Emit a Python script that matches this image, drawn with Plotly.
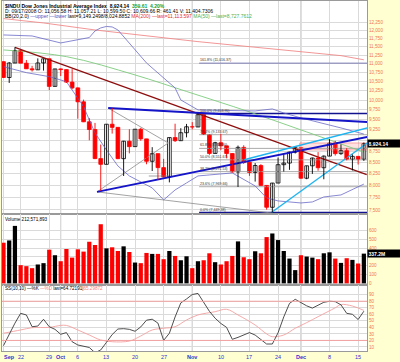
import math
import plotly.graph_objects as go
from plotly.subplots import make_subplots

# ---------------- data ----------------
dates = [
    "09/17", "09/18", "09/19", "09/22", "09/23", "09/24", "09/25", "09/26", "09/29", "09/30",
    "10/01", "10/02", "10/03", "10/06", "10/07", "10/08", "10/09", "10/10", "10/13", "10/14",
    "10/15", "10/16", "10/17", "10/20", "10/21", "10/22", "10/23", "10/24", "10/27", "10/28",
    "10/29", "10/30", "10/31", "11/03", "11/04", "11/05", "11/06", "11/07", "11/10", "11/11",
    "11/12", "11/13", "11/14", "11/17", "11/18", "11/19", "11/20", "11/21", "11/24", "11/25",
    "11/26", "11/28", "12/01", "12/02", "12/03", "12/04", "12/05", "12/08", "12/09", "12/10",
    "12/11", "12/12", "12/15", "12/16"]

closes = [
    10609.66, 11019.69, 11388.44, 11015.69, 10854.17, 10825.17, 11022.06, 11143.13, 10365.45, 10850.66,
    10831.07, 10482.85, 10325.38, 9955.50, 9447.11, 9258.10, 8579.19, 8451.19, 9387.61, 9310.99,
    8577.91, 8979.26, 8852.22, 9265.43, 9033.66, 8519.21, 8691.25, 8378.95, 8175.77, 9065.12,
    8990.96, 9180.69, 9325.01, 9319.83, 9625.28, 9139.27, 8695.79, 8943.81, 8870.54, 8693.96,
    8282.66, 8835.25, 8497.31, 8273.58, 8424.75, 7997.28, 7552.29, 8046.42, 8443.39, 8479.47,
    8726.61, 8829.04, 8149.09, 8419.09, 8591.69, 8376.24, 8635.42, 8934.18, 8691.33, 8761.42,
    8565.09, 8629.68, 8564.53, 8924.14]

opens = [
    11059.02, 10609.66, 11019.69, 11388.44, 11015.69, 10854.17, 10825.17, 11022.06, 11143.13, 10365.45,
    10850.66, 10831.07, 10482.85, 10325.38, 9955.50, 9447.11, 9258.10, 8579.19, 8451.19, 9387.61,
    9310.99, 8577.91, 8979.26, 8852.22, 9265.43, 9033.66, 8519.21, 8691.25, 8378.95, 8175.77,
    9065.12, 8990.96, 9180.69, 9325.01, 9319.83, 9625.28, 9139.27, 8695.79, 8943.81, 8870.54,
    8693.96, 8282.66, 8835.25, 8497.31, 8273.58, 8424.75, 7997.28, 7552.29, 8046.42, 8443.39,
    8479.47, 8726.61, 8829.04, 8149.09, 8419.09, 8591.69, 8376.24, 8635.42, 8934.18, 8691.33,
    8761.42, 8565.09, 8629.68, 8564.53]

highs = [
    11059.02, 11047.0, 11483.05, 11390.0, 11108.0, 10940.0, 11155.0, 11143.13, 11143.13, 10853.0,
    10863.0, 10835.0, 10844.0, 10333.0, 10012.0, 9540.0, 9420.0, 8901.0, 9388.0, 9794.37,
    9311.0, 8988.0, 9265.0, 9266.0, 9298.0, 9034.0, 8840.0, 8691.0, 8573.0, 9065.12,
    9400.0, 9290.0, 9395.0, 9440.0, 9653.95, 9626.0, 9140.0, 8964.0, 9154.0, 8870.54,
    8694.0, 8877.0, 8884.0, 8497.31, 8479.0, 8455.0, 7997.28, 8050.0, 8603.0, 8670.0,
    8734.0, 8831.0, 8829.04, 8420.0, 8602.0, 8727.0, 8650.0, 9027.0, 8987.0, 8904.0,
    8817.0, 8673.0, 8629.68, 8949.0]

lows = [
    10595.0, 10459.44, 11019.69, 11011.0, 10852.0, 10776.0, 10825.0, 10803.0, 10266.0, 10365.45,
    10650.0, 10458.0, 10288.0, 9525.0, 9440.0, 9000.0, 8567.0, 7882.51, 8451.0, 9160.0,
    8568.0, 8197.0, 8698.0, 8850.0, 8990.0, 8453.0, 8305.0, 8114.0, 8166.0, 8061.0,
    8960.0, 8990.0, 9070.0, 9260.0, 9319.0, 9126.0, 8664.0, 8695.0, 8770.0, 8592.0,
    8270.0, 7965.0, 8460.0, 8200.0, 8078.0, 7990.0, 7506.0, 7449.38, 8046.0, 8293.0,
    8330.0, 8694.0, 8141.0, 8128.0, 8242.0, 8311.0, 8127.0, 8635.0, 8648.0, 8664.0,
    8540.0, 8317.0, 8447.0, 8528.0]

volumes_m = [
    461, 487, 652, 206, 195, 172, 214, 229, 382, 319,
    251, 390, 292, 386, 360, 472, 435, 671, 397, 409,
    367, 420, 356, 236, 229, 345, 334, 334, 274, 367,
    311, 262, 307, 172, 251, 262, 341, 240, 214, 251,
    311, 476, 296, 274, 364, 341, 525, 566, 491, 367,
    281, 150, 319, 304, 292, 274, 341, 352, 281, 232,
    285, 266, 225, 337.2]

# overlays (date, value)
ma200_dates = ["09/17", "09/26", "10/09", "11/04", "12/10", "12/16"]
ma200_vals = [12380, 12240, 12017, 11655, 11235, 11113.597]

ma50_dates = ["09/17", "10/02", "10/20", "10/31", "11/17", "12/02", "12/16"]
ma50_vals = [11404, 11206, 10681, 10229, 9695, 9200, 8727.76]

bb_up_dates = ["09/17", "09/24", "10/01", "10/08", "10/09", "10/10", "10/13", "10/14", "10/15",
               "10/16", "10/22", "10/29", "10/30", "11/04", "11/12", "11/18", "11/21", "11/25",
               "12/01", "12/04", "12/10", "12/16"]
bb_up_vals = [11861, 11830, 11615, 11780, 11986, 12081, 12128, 12112, 12017,
              11808, 11022, 10324, 10004, 9746, 9720, 9720, 9771, 9669,
              9544, 9444, 9297, 9149.25]

bb_lo_dates = ["09/17", "09/23", "09/29", "10/02", "10/07", "10/09", "10/13", "10/15", "10/17",
               "10/21", "10/23", "10/27", "10/29", "10/31", "11/04", "11/12", "11/18", "11/20",
               "11/24", "12/01", "12/03", "12/05", "12/10", "12/16"]
bb_lo_vals = [10916, 10746, 10634, 10495, 9830, 9176, 8776, 8416, 8198,
              8070, 7945, 7699, 7903, 8049, 8198, 8263, 7986, 7739,
              7679, 7638, 7658, 7759, 7800, 8024.89]

stoch_k = [
    12, 29.5, 46.4, 61.5, 59, 41, 42, 52.4, 41, 37,
    29.4, 32, 18, 13, 11.5, 9.2, 1.2, 5.4, 17, 29,
    37.5, 38, 37, 34, 40.7, 51, 52.5, 46.5, 20, 31,
    55.9, 77.5, 83.5, 90.3, 92, 77.6, 64.6, 54, 46, 40,
    21.7, 24.7, 28, 32, 28.2, 22, 14.5, 14.5, 31.7, 56,
    76.7, 83, 77.5, 73, 69.5, 74, 78.4, 80, 79.4, 74.5,
    61.5, 60, 52, 64.72]

stoch_d_dates = ["09/17", "09/22", "09/24", "09/29", "10/01", "10/02", "10/06", "10/08", "10/10",
                 "10/14", "10/17", "10/21", "10/23", "10/27", "10/29", "10/31", "11/04", "11/07",
                 "11/11", "11/13", "11/18", "11/20", "11/21", "11/25", "11/28", "12/02", "12/04",
                 "12/09", "12/10", "12/12", "12/16"]
stoch_d_vals = [31, 36, 39.5, 40, 43, 43, 36, 28.3, 20.7,
                18, 19, 26.8, 36, 38.6, 41, 51.3, 59, 64,
                67.7, 59, 43.6, 30, 25.7, 28.3, 38.6, 47.2, 56.4,
                70, 75, 72.7, 66]
stoch_levels = [20, 80]

# Fibonacci retracement anchors
fib_low = 7449.38
fib_high = 9653.95
fib_start = 34.2
fib_pcts = [0.0, 23.6, 38.2, 50.0, 61.8, 76.4, 100.0, 161.8]

# hand-drawn trend lines: (day position, price)
maroon_x = [2.0, 63.5]
maroon_y = [11483.05, 8227]
blue_top_x = [18.3, 63.6]
blue_top_y = [9795, 9444]
blue_low_x = [16.35, 63.6]
blue_low_y = [7863, 9079]
cyan_hi_x = [41.9, 63.6]
cyan_hi_y = [8548, 9297]
cyan_lo_x = [46.9, 63.6]
cyan_lo_y = [7454, 8938]
grey_tri_x = [18.3, 28.8, 16.35]
grey_tri_y = [9795, 8938, 7863]
grey_base_x = [16.35, 46.9]
grey_base_y = [7863, 7439]
support_x = [25.4, 29.1]
support_y = [8197, 8197]
pink_zone_x = [51.8, 63.6, 63.6, 51.8, 51.8]
pink_zone_y = [8775, 8775, 8938, 8938, 8775]

price_ticks = [7500 + 250 * k for k in range(20)]
volume_ticks = [0, 100, 200, 300, 400, 500, 600]
stoch_ticks = [10, 20, 30, 40, 50, 60, 70, 80, 90]

tick_dates = ["09/17", "09/22", "09/29", "10/01", "10/06", "10/13", "10/20", "10/27",
              "11/03", "11/10", "11/17", "11/24", "12/01", "12/08", "12/15"]
tick_text = ["<b>Sep</b>", "22", "29", "<b>Oct</b>", "6", "13", "20", "27",
             "<b>Nov</b>", "10", "17", "24", "<b>Dec</b>", "8", "15"]
month_dates = ["10/01", "11/03", "12/01"]

# ---------------- figure ----------------
days = list(range(len(dates)))
pos = {d: i for i, d in enumerate(dates)}

def px(ds):
    return [pos[d] for d in ds]

FONT = "Liberation Sans, Arial, sans-serif"
SALMON = "#F07850"
GRID = "#DADADA"
AXLINE = "#9A9A9A"

fig = make_subplots(rows=3, cols=1, shared_xaxes=True, vertical_spacing=0)

# price panel
fig.add_trace(go.Scatter(x=pink_zone_x, y=pink_zone_y, mode="lines", fill="toself",
                         fillcolor="rgba(255,120,120,0.22)", line=dict(color="rgba(240,110,110,0.7)", width=0.8)),
              row=1, col=1)
for pct in fib_pcts:
    lvl = fib_low + pct / 100.0 * (fib_high - fib_low)
    if pct in (0.0, 100.0):
        col, w = "#12128F", 1.6
    elif pct > 100:
        col, w = "#7070B0", 0.9
    else:
        col, w = "#A0A0A0", 0.9
    fig.add_trace(go.Scatter(x=[fib_start, days[-1] + 1], y=[lvl, lvl], mode="lines",
                             line=dict(color=col, width=w)), row=1, col=1)
    fig.add_annotation(x=fib_start - 0.2, y=math.log10(lvl), xref="x", yref="y",
                       text=f"{pct:.1f}% ({lvl:,.2f})", showarrow=False,
                       xanchor="left", yanchor="bottom", yshift=-1,
                       font=dict(family=FONT, size=3.6, color="#333333"))

fig.add_trace(go.Scatter(x=px(ma200_dates), y=ma200_vals, mode="lines",
                         line=dict(color="#F08A8A", width=0.9)), row=1, col=1)
fig.add_trace(go.Scatter(x=px(ma50_dates), y=ma50_vals, mode="lines", line_shape="spline",
                         line=dict(color="#7DCB7D", width=0.9)), row=1, col=1)
fig.add_trace(go.Scatter(x=px(bb_up_dates), y=bb_up_vals, mode="lines",
                         line=dict(color="#6A6AC8", width=0.8)), row=1, col=1)
fig.add_trace(go.Scatter(x=px(bb_lo_dates), y=bb_lo_vals, mode="lines",
                         line=dict(color="#6A6AC8", width=0.8)), row=1, col=1)

for xs, ys, col, w in [
    (grey_tri_x, grey_tri_y, "#8C8C8C", 0.8),
    (grey_base_x, grey_base_y, "#8C8C8C", 0.8),
    (support_x, support_y, "#8C8C8C", 0.8),
    (maroon_x, maroon_y, "#8E0E0E", 1.3),
    (cyan_hi_x, cyan_hi_y, "#1EB4F0", 1.4),
    (cyan_lo_x, cyan_lo_y, "#1EB4F0", 1.4),
    (blue_top_x, blue_top_y, "#1414C8", 2.0),
    (blue_low_x, blue_low_y, "#1414C8", 2.0),
]:
    fig.add_trace(go.Scatter(x=xs, y=ys, mode="lines", line=dict(color=col, width=w)), row=1, col=1)

# candles: wicks + bodies
up = [c >= o for o, c in zip(opens, closes)]
for is_up, col in [(True, "#000000"), (False, "#FF0000")]:
    wx, wy = [], []
    for i in days:
        if up[i] == is_up:
            wx += [i, i, None]
            wy += [lows[i], highs[i], None]
    fig.add_trace(go.Scatter(x=wx, y=wy, mode="lines", line=dict(color=col, width=0.9)), row=1, col=1)
body_base = [min(o, c) for o, c in zip(opens, closes)]
body_len = [max(abs(c - o), 1.0) for o, c in zip(opens, closes)]
fig.add_trace(go.Bar(x=days, y=body_len, base=body_base, width=0.66,
                     marker=dict(color=["#FFFFFF" if u else "#FF0000" for u in up],
                                 line=dict(color=["#000000" if u else "#FF0000" for u in up], width=0.8))),
              row=1, col=1)

# volume panel
prev = [opens[0]] + closes[:-1]
vol_colors = ["#000000" if c >= p else "#FF0000" for c, p in zip(closes, prev)]
fig.add_trace(go.Bar(x=days, y=volumes_m, marker=dict(color=vol_colors, line=dict(width=0)),
                     width=0.74), row=2, col=1)

# stochastic panel
fig.add_trace(go.Scatter(x=px(stoch_d_dates), y=stoch_d_vals, mode="lines", line_shape="spline",
                         line=dict(color="#F4A0A0", width=0.9)), row=3, col=1)
fig.add_trace(go.Scatter(x=days, y=stoch_k, mode="lines",
                         line=dict(color="#3A3A3A", width=0.9)), row=3, col=1)

for lv in stoch_levels:
    fig.add_shape(type="line", xref="x3 domain", x0=0, x1=1, yref="y3", y0=lv, y1=lv,
                  line=dict(color="#F4A0A0", width=1))

for md in month_dates:
    fig.add_shape(type="line", xref="x", x0=pos[md], x1=pos[md], yref="paper", y0=0, y1=1,
                  line=dict(color="#B4B4B4", width=1), layer="below")

# layout
H_TOP, H_VOL, H_SS = 213, 71, 66
tot = H_TOP + H_VOL + H_SS
d_ss = H_SS / tot
d_vol = (H_SS + H_VOL) / tot

xcommon = dict(range=[-0.26, 63.55], tickvals=px(tick_dates), showticklabels=False,
               showgrid=True, gridcolor=GRID, gridwidth=1, zeroline=False,
               showline=True, linecolor=AXLINE, linewidth=1, mirror=True, ticks="",
               rangeslider=dict(visible=False))
fig.update_xaxes(**xcommon)

# date labels below the bottom panel
for k, (d, t) in enumerate(zip(tick_dates, tick_text)):
    first = (k == 0)
    fig.add_annotation(xref="x3", yref="paper", x=pos[d] - (0.2 if first else 0),
                       y=-(5.5 / tot), xanchor="left" if first else "center",
                       yanchor="middle", showarrow=False, text=t,
                       font=dict(family=FONT, size=5.5, color="#3030D0"))

ycommon = dict(side="right", showgrid=True, gridcolor=GRID, gridwidth=1, zeroline=False,
               showline=True, linecolor=AXLINE, linewidth=1, mirror=True, ticks="",
               tickfont=dict(family=FONT, size=4.6, color=SALMON))

price_text = ["" if t == 9000 else f"{t:,}" for t in price_ticks]
volume_text = ["" if t == 300 else str(t) for t in volume_ticks]

fig.update_layout(
    width=400, height=362,
    margin=dict(l=2, r=33, t=1, b=11),
    paper_bgcolor="#FFFFD2", plot_bgcolor="#FFFFFF",
    showlegend=False, hovermode=False, barmode="overlay",
    font=dict(family=FONT),
    yaxis=dict(domain=[d_vol, 1], type="log",
               range=[3.87042, 4.11274], tickvals=price_ticks,
               ticktext=price_text, **ycommon),
    yaxis2=dict(domain=[d_ss, d_vol], range=[-19, 787], tickvals=volume_ticks,
                ticktext=volume_text, **ycommon),
    yaxis3=dict(domain=[0, d_ss], range=[3.8, 104.9], tickvals=stoch_ticks, **ycommon),
)

# header texts
def hdr(y_px, text, size=5):
    fig.add_annotation(xref="paper", yref="paper", x=0.003, y=1 - (y_px - 1) / tot,
                       xanchor="left", yanchor="middle", showarrow=False, text=text,
                       font=dict(family=FONT, size=size, color="#000000"))

hdr(5.5, "<b>$INDU Dow Jones Industrial Average Index</b>  <b>8,924.14</b>  "
         "<span style='color:#1AA01A'><b>359.61  4.20%</b></span>")
hdr(11, "D: 09/17/2008 O: 11,056.58 H: 11,057.21 L: 10,599.50 C: 10,609.66 R: 461.41 V: 11,404.7306")
hdr(16.5, "BB(20,2.0) <span style='color:#5050C0'>—upper —lower</span> last=9,149.2498/8,024.8852 "
          "<span style='color:#E03030'>MA(200) —last=11,113.597</span> "
          "<span style='color:#50B050'>MA(50) —last=8,727.7612</span>")
hdr(219, "Volume 212,571,893", size=4.6)
hdr(288.5, "SS(10,10) —%K <span style='color:#F08080'>—%D</span> last=64.72191|"
           "<span style='color:#F08080'>65.29872</span>", size=4.6)

# last value boxes
fig.add_annotation(xref="paper", yref="y", x=1.0, y=math.log10(closes[-1]), xanchor="left",
                   yanchor="middle", showarrow=False, text="<b>" + f"{closes[-1]:,.2f}" + "</b>",
                   bgcolor="#000000", width=31, height=6, align="left", borderpad=0.5,
                   font=dict(family=FONT, size=5, color="#FFFFFF"))
fig.add_annotation(xref="paper", yref="y2", x=1.0, y=volumes_m[-1], xanchor="left",
                   yanchor="middle", showarrow=False, text="<b>" + f"{volumes_m[-1]:.1f}M" + "</b>",
                   bgcolor="#000000", width=31, height=6, align="left", borderpad=0.5,
                   font=dict(family=FONT, size=5, color="#FFFFFF"))

fig.write_html("out.html", config={"displayModeBar": False},
               post_script="document.body.style.margin='0px';document.body.style.padding='0px';")
